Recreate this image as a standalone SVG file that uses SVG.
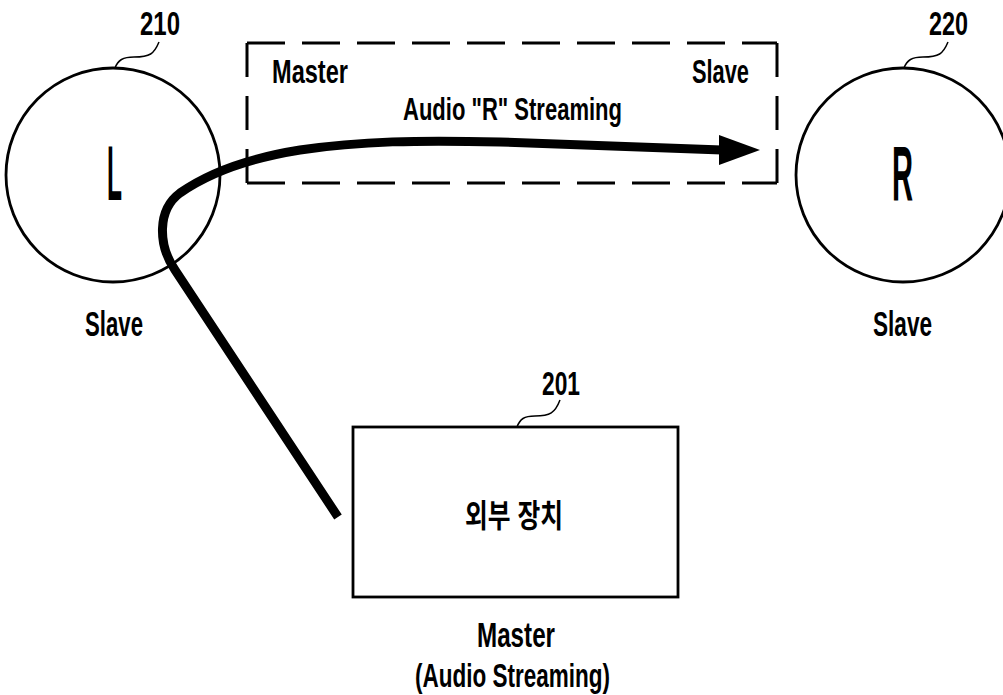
<svg xmlns="http://www.w3.org/2000/svg" width="1003" height="695" viewBox="0 0 1003 695">
<style>
.t{font-family:"Liberation Sans","DejaVu Sans",sans-serif;font-weight:bold;fill:#000}
.k{font-family:"Liberation Sans","Noto Sans CJK KR",sans-serif;font-weight:bold;fill:#000}
.shape{fill:#fff;stroke:#000;stroke-width:2.8}
.lead{fill:none;stroke:#000;stroke-width:1.5}
.dh{fill:none;stroke:#000;stroke-width:3;stroke-dasharray:38 17}
.dv{fill:none;stroke:#000;stroke-width:3;stroke-dasharray:34 19}
</style>
<rect width="1003" height="695" fill="#fff"/>
<g id="node-210">
<circle class="shape" cx="113" cy="175" r="107"/>
<path class="lead" d="M115,68 C118,60 123,57 134,57 C150,57 154,54 159,42"/>
<text class="t" x="140" y="35" font-size="34" textLength="40" lengthAdjust="spacingAndGlyphs">210</text>
<text class="t" x="107" y="200" font-size="78" textLength="15" lengthAdjust="spacingAndGlyphs">L</text>
<text class="t" x="85" y="336" font-size="35" textLength="58" lengthAdjust="spacingAndGlyphs">Slave</text>
</g>
<g id="node-220">
<circle class="shape" cx="903" cy="175" r="107"/>
<path class="lead" d="M904,68 C907,60 912,57 923,57 C939,57 943,54 948,42"/>
<text class="t" x="929" y="35" font-size="34" textLength="39" lengthAdjust="spacingAndGlyphs">220</text>
<text class="t" x="892" y="200" font-size="78" textLength="21" lengthAdjust="spacingAndGlyphs">R</text>
<text class="t" x="873" y="336" font-size="35" textLength="59" lengthAdjust="spacingAndGlyphs">Slave</text>
</g>
<g id="node-201">
<rect class="shape" x="353" y="427" width="325" height="170"/>
<path class="lead" d="M517,427 C520,419 524,416 535,416 C550,416 555,413 560,400"/>
<text class="t" x="542" y="395" font-size="34" textLength="38" lengthAdjust="spacingAndGlyphs">201</text>
<text class="k" x="465" y="527" font-size="32" textLength="98" lengthAdjust="spacingAndGlyphs">외부 장치</text>
<text class="t" x="477" y="647" font-size="35" textLength="78" lengthAdjust="spacingAndGlyphs">Master</text>
<text class="t" x="415" y="687" font-size="33" textLength="195" lengthAdjust="spacingAndGlyphs">(Audio Streaming)</text>
</g>
<g id="link-box">
<path class="dh" d="M247,43 H777"/>
<path class="dh" d="M247,183 H777"/>
<path class="dv" d="M247,43 V183"/>
<path class="dv" d="M777,43 V183"/>
<text class="t" x="272" y="83" font-size="33" textLength="76" lengthAdjust="spacingAndGlyphs">Master</text>
<text class="t" x="692" y="83" font-size="33" textLength="57" lengthAdjust="spacingAndGlyphs">Slave</text>
<text class="t" x="403" y="120" font-size="32" textLength="219" lengthAdjust="spacingAndGlyphs">Audio "R" Streaming</text>
</g>
<g id="connectors">
<path d="M338,517 L175,270 C158,245 157,210 180,193 C210,172 250,158 300,150 C360,141 420,140 500,142 L722,150" fill="none" stroke="#000" stroke-width="9" stroke-linejoin="round"/>
<polygon points="760,150 719,135 719,165" fill="#000"/>
</g>
</svg>
